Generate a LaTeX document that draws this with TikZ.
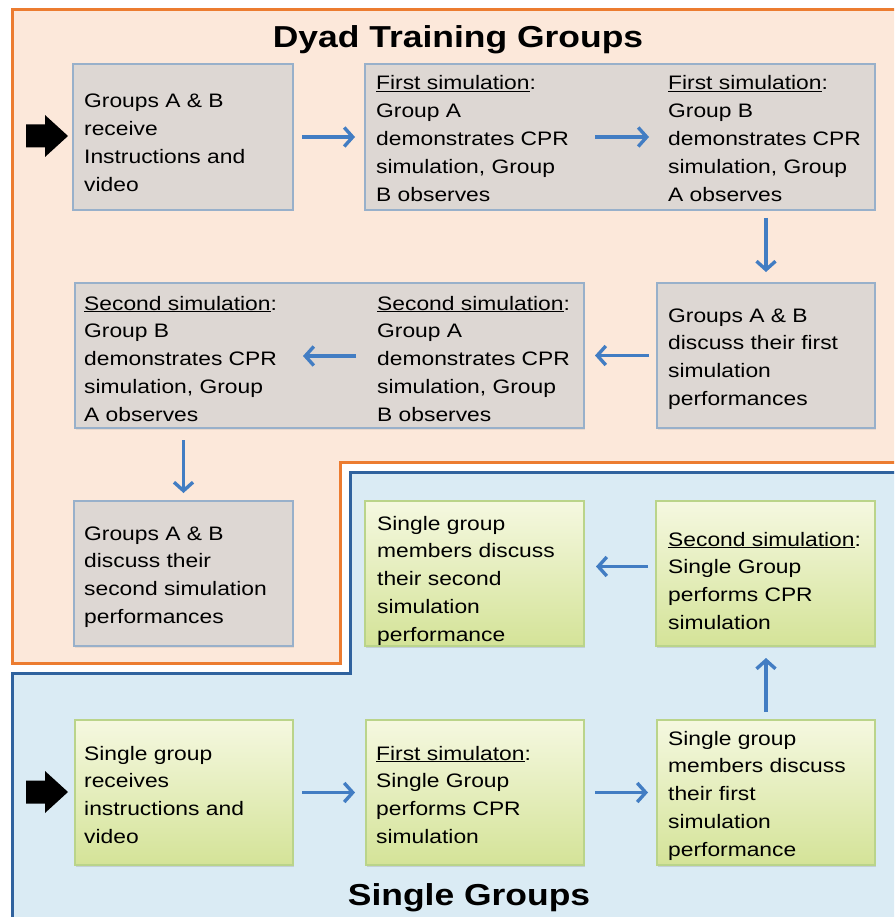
\documentclass[tikz,border=0pt]{standalone}
\usepackage{fontspec}
\setmainfont[FakeStretch=1.17]{Liberation Sans}
\usetikzlibrary{arrows.meta,shadows}
\definecolor{dyadfill}{RGB}{252,232,218}
\definecolor{dyadline}{RGB}{236,124,48}
\definecolor{singfill}{RGB}{218,235,244}
\definecolor{singline}{RGB}{47,98,158}
\definecolor{grayfill}{RGB}{221,215,211}
\definecolor{grayline}{RGB}{152,176,202}
\definecolor{grtop}{RGB}{245,248,224}
\definecolor{grbot}{RGB}{212,227,152}
\definecolor{grline}{RGB}{186,212,138}
\definecolor{flowblue}{RGB}{66,125,195}
\newcommand\boxlines[1]{\begin{tabular}[t]{@{}l@{}}#1\end{tabular}}
\begin{document}
\begin{tikzpicture}[x=1pt,y=-1pt,
  gbox/.style={draw=grayline, line width=2.5pt, fill=grayfill, anchor=north west, inner sep=0pt, outer sep=0pt,
     drop shadow={shadow xshift=1pt, shadow yshift=-1.5pt, opacity=.15}},
  sbox/.style={draw=grline, line width=2pt, top color=grtop, bottom color=grbot, anchor=north west, inner sep=0pt, outer sep=0pt,
     drop shadow={shadow xshift=1.2pt, shadow yshift=-1.8pt, opacity=.25}},
  txt/.style={anchor=base west, inner sep=0pt, font=\fontsize{19.5}{27.8}\selectfont},
  title/.style={anchor=base, inner sep=0pt, font=\fontsize{30.3}{36}\selectfont\bfseries},
  flow/.style={draw=flowblue, line width=3.4pt, -{Straight Barb[length=8.5pt,width=19pt]}},
]
\useasboundingbox (0,0) rectangle (894,917);
\clip (0,0) rectangle (894,917);
\fill[white] (0,0) rectangle (894,917);
% regions
\draw[dyadline, line width=3pt, fill=dyadfill] (12,10) -- (905,10) -- (905,462) -- (340,462) -- (340,663) -- (12,663) -- cycle;
\draw[singline, line width=3pt, fill=singfill] (350,472) -- (905,472) -- (905,930) -- (12,930) -- (12,673) -- (350,673) -- cycle;
% boxes
\node[gbox, minimum width=220pt, minimum height=146pt] (B1) at (73,64) {};
\node[gbox, minimum width=510pt, minimum height=146pt] (B2) at (365,64) {};
\node[gbox, minimum width=218pt, minimum height=145pt] (B3) at (657,283) {};
\node[gbox, minimum width=509pt, minimum height=145pt] (B4) at (75,283) {};
\node[gbox, minimum width=219pt, minimum height=145pt] (B5) at (74,501) {};
\node[sbox, minimum width=219pt, minimum height=145pt] (S1) at (365,501) {};
\node[sbox, minimum width=219pt, minimum height=145pt] (S2) at (656,501) {};
\node[sbox, minimum width=218pt, minimum height=145pt] (S3) at (75,720) {};
\node[sbox, minimum width=218pt, minimum height=145pt] (S4) at (366,720) {};
\node[sbox, minimum width=218pt, minimum height=145pt] (S5) at (657,720) {};
% texts
\node[txt] (T1) at (84,108) {\boxlines{Groups A \& B\\receive\\Instructions and\\video}};
\node[txt] (T2a) at (376,90) {\boxlines{\underline{First simulation}:\\Group A\\demonstrates CPR\\simulation, Group\\B observes}};
\node[txt] (T2b) at (668,90) {\boxlines{\underline{First simulation}:\\Group B\\demonstrates CPR\\simulation, Group\\A observes}};
\node[txt] (T3) at (668,322) {\boxlines{Groups A \& B\\discuss their first\\simulation\\performances}};
\node[txt] (T4a) at (84,310) {\boxlines{\underline{Second simulation}:\\Group B\\demonstrates CPR\\simulation, Group\\A observes}};
\node[txt] (T4b) at (377,310) {\boxlines{\underline{Second simulation}:\\Group A\\demonstrates CPR\\simulation, Group\\B observes}};
\node[txt] (T5) at (84,540) {\boxlines{Groups A \& B\\discuss their\\second simulation\\performances}};
\node[txt] (U1) at (377,530) {\boxlines{Single group\\members discuss\\their second\\simulation\\performance}};
\node[txt] (U2) at (668,546) {\boxlines{\underline{Second simulation}:\\Single Group\\performs CPR\\simulation}};
\node[txt] (U3) at (84,760) {\boxlines{Single group\\receives\\instructions and\\video}};
\node[txt] (U4) at (376,760) {\boxlines{\underline{First simulaton}:\\Single Group\\performs CPR\\simulation}};
\node[txt] (U5) at (668,745) {\boxlines{Single group\\members discuss\\their first\\simulation\\performance}};
% titles
\node[title] (TD) at (458,48) {Dyad Training Groups};
\node[title] (TS) at (469,905) {Single Groups};
% start arrows
\fill[black] (26,124.5) -- (45,124.5) -- (45,115) -- (68,136) -- (45,157) -- (45,147.5) -- (26,147.5) -- cycle;
\fill[black] (26,780.5) -- (45,780.5) -- (45,771) -- (68,792) -- (45,813) -- (45,803.5) -- (26,803.5) -- cycle;
% connectors
\coordinate (c1) at (595,137);
\coordinate (c2) at (649,137);
\coordinate (c3) at (356,356);
\coordinate (c4) at (303,356);
\draw[flow, shorten <=9pt, shorten >=10pt] (B1.east) -- (B2.west);
\draw[flow] (c1) -- (c2);
\draw[flow, shorten <=8pt, shorten >=11pt] (B2.south -| B3.north) -- (B3.north);
\draw[flow, shorten <=8pt, shorten >=11pt] (B3.west) -- (B4.east);
\draw[flow] (c3) -- (c4);
\draw[flow, shorten <=12pt, shorten >=8pt] (B4.south -| B5.north) -- (B5.north);
\draw[flow, shorten <=8pt, shorten >=12pt] ([yshift=7pt]S2.west) -- ([yshift=7pt]S1.east);
\draw[flow, shorten <=8pt, shorten >=12pt] (S5.north) -- (S5.north |- S2.south);
\draw[flow, shorten <=9pt, shorten >=11pt] (S3.east) -- (S4.west);
\draw[flow, shorten <=11pt, shorten >=9pt] (S4.east) -- (S5.west);
\end{tikzpicture}
\end{document}
